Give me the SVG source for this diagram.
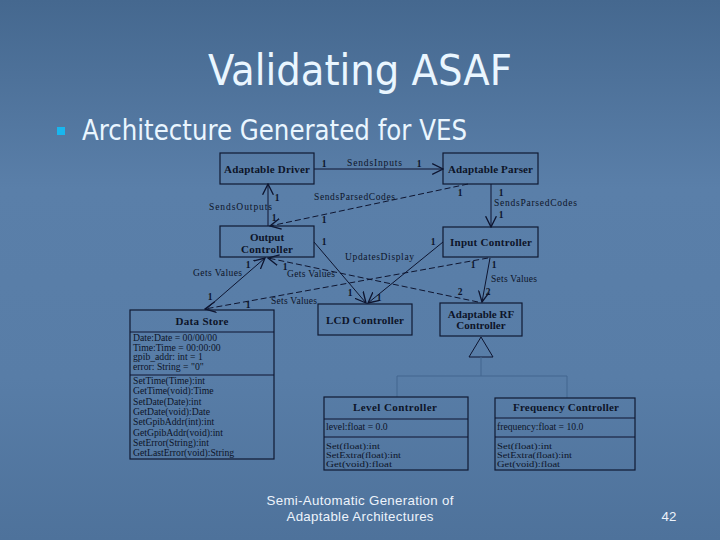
<svg xmlns="http://www.w3.org/2000/svg" width="720" height="540" viewBox="0 0 720 540">
<defs>
<linearGradient id="bg" x1="0" y1="0" x2="0" y2="1">
<stop offset="0" stop-color="#45688f"/>
<stop offset="0.35" stop-color="#5a7fa9"/>
<stop offset="0.7" stop-color="#587da7"/>
<stop offset="1" stop-color="#4e729b"/>
</linearGradient>
<marker id="arr" markerUnits="userSpaceOnUse" markerWidth="12" markerHeight="12" viewBox="0 0 10 10" refX="9" refY="5" orient="auto">
<path d="M0,0.5 L9,5 L0,9.5" fill="none" stroke="#0e1530" stroke-width="1.1"/>
</marker>
<style>
.box{fill:none;stroke:#101a33;stroke-width:1.2}
.ln{fill:none;stroke:#0e1530;stroke-width:1}
.dash{stroke-dasharray:6 3}
.gen{fill:none;stroke:#43668f;stroke-width:1}
.t{font-family:"Liberation Serif","Times New Roman",serif;font-weight:bold;font-size:11px;fill:#0d1428;text-anchor:middle}
.lb{font-family:"Liberation Serif","Times New Roman",serif;font-size:9.5px;fill:#0d1428}
.m{font-family:"Liberation Serif","Times New Roman",serif;font-weight:bold;font-size:9.5px;fill:#0d1428}
.a{font-family:"Liberation Serif","Times New Roman",serif;font-size:9.7px;fill:#0d1428}
.s{font-family:"Liberation Serif","Times New Roman",serif;font-size:8.8px;fill:#0d1428}
.ft{font-family:"Liberation Sans",Arial,sans-serif;font-size:13.3px;fill:#edf3fb}
</style>
</defs>
<rect width="720" height="540" fill="url(#bg)"/>
<text x="360" y="85" text-anchor="middle" font-family="DejaVu Sans Condensed,DejaVu Sans,sans-serif" font-size="43" fill="#eaf6ff" textLength="304" lengthAdjust="spacingAndGlyphs">Validating ASAF</text>
<rect x="57" y="127" width="8" height="8" fill="#19b6ee"/>
<text x="82" y="140" font-family="DejaVu Sans Condensed,DejaVu Sans,sans-serif" font-size="28" fill="#eaf6ff" textLength="385" lengthAdjust="spacingAndGlyphs">Architecture Generated for VES</text>

<g id="connectors">
<line class="ln" x1="314" y1="169" x2="443" y2="169" marker-end="url(#arr)"/>
<line class="ln dash" x1="468" y1="184" x2="270" y2="226" marker-end="url(#arr)"/>
<line class="ln" x1="268" y1="226" x2="268" y2="184" marker-end="url(#arr)"/>
<line class="ln" x1="491" y1="184" x2="491" y2="227" marker-end="url(#arr)"/>
<line class="ln" x1="314" y1="242" x2="366" y2="303" marker-end="url(#arr)"/>
<line class="ln" x1="443" y1="242" x2="368" y2="303" marker-end="url(#arr)"/>
<line class="ln dash" x1="478" y1="302" x2="268" y2="258" marker-end="url(#arr)"/>
<line class="ln" x1="205" y1="310" x2="265" y2="258" marker-end="url(#arr)"/>
<line class="ln dash" x1="488" y1="258" x2="205" y2="309" marker-end="url(#arr)"/>
<line class="ln" x1="490" y1="258" x2="482" y2="302" marker-end="url(#arr)"/>
<path class="ln" d="M481,337 L469,357 L493,357 Z"/>
<path class="gen" d="M481,357 V376 M397,376 H567 M397,376 V397 M567,376 V398"/>
<text class="lb" x="347" y="166" textLength="55" lengthAdjust="spacing">SendsInputs</text>
<text class="m" x="324" y="167" text-anchor="middle">1</text>
<text class="m" x="419" y="167" text-anchor="middle">1</text>
<text class="lb" x="314" y="200" textLength="81" lengthAdjust="spacing">SendsParsedCodes</text>
<text class="m" x="460" y="196" text-anchor="middle">1</text>
<text class="m" x="324" y="223" text-anchor="middle">1</text>
<text class="lb" x="209" y="210" textLength="63" lengthAdjust="spacing">SendsOutputs</text>
<text class="m" x="277" y="201" text-anchor="middle">1</text>
<text class="m" x="274" y="221" text-anchor="middle">1</text>
<text class="lb" x="494" y="206" textLength="83" lengthAdjust="spacing">SendsParsedCodes</text>
<text class="m" x="501" y="196" text-anchor="middle">1</text>
<text class="m" x="501" y="218" text-anchor="middle">1</text>
<text class="lb" x="345" y="260" textLength="69" lengthAdjust="spacing">UpdatesDisplay</text>
<text class="m" x="324" y="245" text-anchor="middle">1</text>
<text class="m" x="433" y="245" text-anchor="middle">1</text>
<text class="m" x="350" y="296" text-anchor="middle">1</text>
<text class="m" x="379" y="301" text-anchor="middle">1</text>
<text class="lb" x="193" y="276" textLength="49" lengthAdjust="spacing">Gets Values</text>
<text class="m" x="210" y="300" text-anchor="middle">1</text>
<text class="m" x="248" y="268" text-anchor="middle">1</text>
<text class="lb" x="287" y="277" textLength="48" lengthAdjust="spacing">Gets Values</text>
<text class="m" x="285" y="270" text-anchor="middle">1</text>
<text class="m" x="460" y="295" text-anchor="middle">2</text>
<text class="lb" x="271" y="304" textLength="46" lengthAdjust="spacing">Sets Values</text>
<text class="m" x="248" y="308" text-anchor="middle">1</text>
<text class="m" x="473" y="268" text-anchor="middle">1</text>
<text class="lb" x="491" y="282" textLength="46" lengthAdjust="spacing">Sets Values</text>
<text class="m" x="494" y="268" text-anchor="middle">1</text>
<text class="m" x="488" y="295" text-anchor="middle">2</text>
</g>

<g id="adaptable-driver">
<rect class="box" x="220" y="153" width="94" height="31"/>
<text class="t" x="267" y="173" textLength="86" lengthAdjust="spacing">Adaptable Driver</text>
</g>
<g id="adaptable-parser">
<rect class="box" x="443" y="153" width="95" height="31"/>
<text class="t" x="490.5" y="173" textLength="85" lengthAdjust="spacing">Adaptable Parser</text>
</g>
<g id="output-controller">
<rect class="box" x="220" y="226" width="94" height="31"/>
<text class="t" x="267" y="241">Output</text>
<text class="t" x="267" y="253" textLength="52" lengthAdjust="spacing">Controller</text>
</g>
<g id="input-controller">
<rect class="box" x="443" y="227" width="95" height="30"/>
<text class="t" x="491" y="246" textLength="82" lengthAdjust="spacing">Input Controller</text>
</g>
<g id="lcd-controller">
<rect class="box" x="318" y="304" width="94" height="31"/>
<text class="t" x="365" y="324" textLength="78" lengthAdjust="spacing">LCD Controller</text>
</g>
<g id="adaptable-rf-controller">
<rect class="box" x="440" y="303" width="82" height="33"/>
<text class="t" x="481" y="318" font-size="10">Adaptable RF</text>
<text class="t" x="481" y="329" font-size="10">Controller</text>
</g>
<g id="data-store">
<rect class="box" x="130" y="310" width="144" height="149"/>
<line class="ln" x1="130" y1="332" x2="274" y2="332"/>
<line class="ln" x1="130" y1="375" x2="274" y2="375"/>
<text class="t" x="202" y="325" textLength="53" lengthAdjust="spacing">Data Store</text>
<text class="a" x="133" y="341">Date:Date = 00/00/00</text>
<text class="a" x="133" y="350.5">Time:Time = 00:00:00</text>
<text class="a" x="133" y="360">gpib_addr: int = 1</text>
<text class="a" x="133" y="369.5">error: String = "0"</text>
<text class="a" x="133" y="384">SetTime(Time):int</text>
<text class="a" x="133" y="394.3">GetTime(void):Time</text>
<text class="a" x="133" y="404.6">SetDate(Date):int</text>
<text class="a" x="133" y="414.9">GetDate(void):Date</text>
<text class="a" x="133" y="425.2">SetGpibAddr(int):int</text>
<text class="a" x="133" y="435.5">GetGpibAddr(void):int</text>
<text class="a" x="133" y="445.8">SetError(String):int</text>
<text class="a" x="133" y="456.1">GetLastError(void):String</text>
</g>
<g id="level-controller">
<rect class="box" x="324" y="397" width="144" height="73"/>
<line class="ln" x1="324" y1="419" x2="468" y2="419"/>
<line class="ln" x1="324" y1="437" x2="468" y2="437"/>
<text class="t" x="395" y="411" font-size="10" textLength="84" lengthAdjust="spacing">Level Controller</text>
<text class="a" x="326" y="430">level:float = 0.0</text>
<text class="s" x="326" y="448.5" textLength="54" lengthAdjust="spacingAndGlyphs">Set(float):int</text>
<text class="s" x="326" y="457.5" textLength="75" lengthAdjust="spacingAndGlyphs">SetExtra(float):int</text>
<text class="s" x="326" y="466.5" textLength="66" lengthAdjust="spacingAndGlyphs">Get(void):float</text>
</g>
<g id="frequency-controller">
<rect class="box" x="495" y="398" width="140" height="72"/>
<line class="ln" x1="495" y1="418" x2="635" y2="418"/>
<line class="ln" x1="495" y1="437" x2="635" y2="437"/>
<text class="t" x="566" y="411" font-size="10" textLength="106" lengthAdjust="spacing">Frequency Controller</text>
<text class="a" x="497" y="430">frequency:float = 10.0</text>
<text class="s" x="497" y="448.5" textLength="55" lengthAdjust="spacingAndGlyphs">Set(float):int</text>
<text class="s" x="497" y="457.5" textLength="75" lengthAdjust="spacingAndGlyphs">SetExtra(float):int</text>
<text class="s" x="497" y="466.5" textLength="63" lengthAdjust="spacingAndGlyphs">Get(void):float</text>
</g>

<text class="ft" x="360" y="505" text-anchor="middle" textLength="187" lengthAdjust="spacing">Semi-Automatic Generation of</text>
<text class="ft" x="360" y="521" text-anchor="middle" textLength="147" lengthAdjust="spacing">Adaptable Architectures</text>
<text class="ft" x="669" y="521" text-anchor="middle">42</text>
</svg>
